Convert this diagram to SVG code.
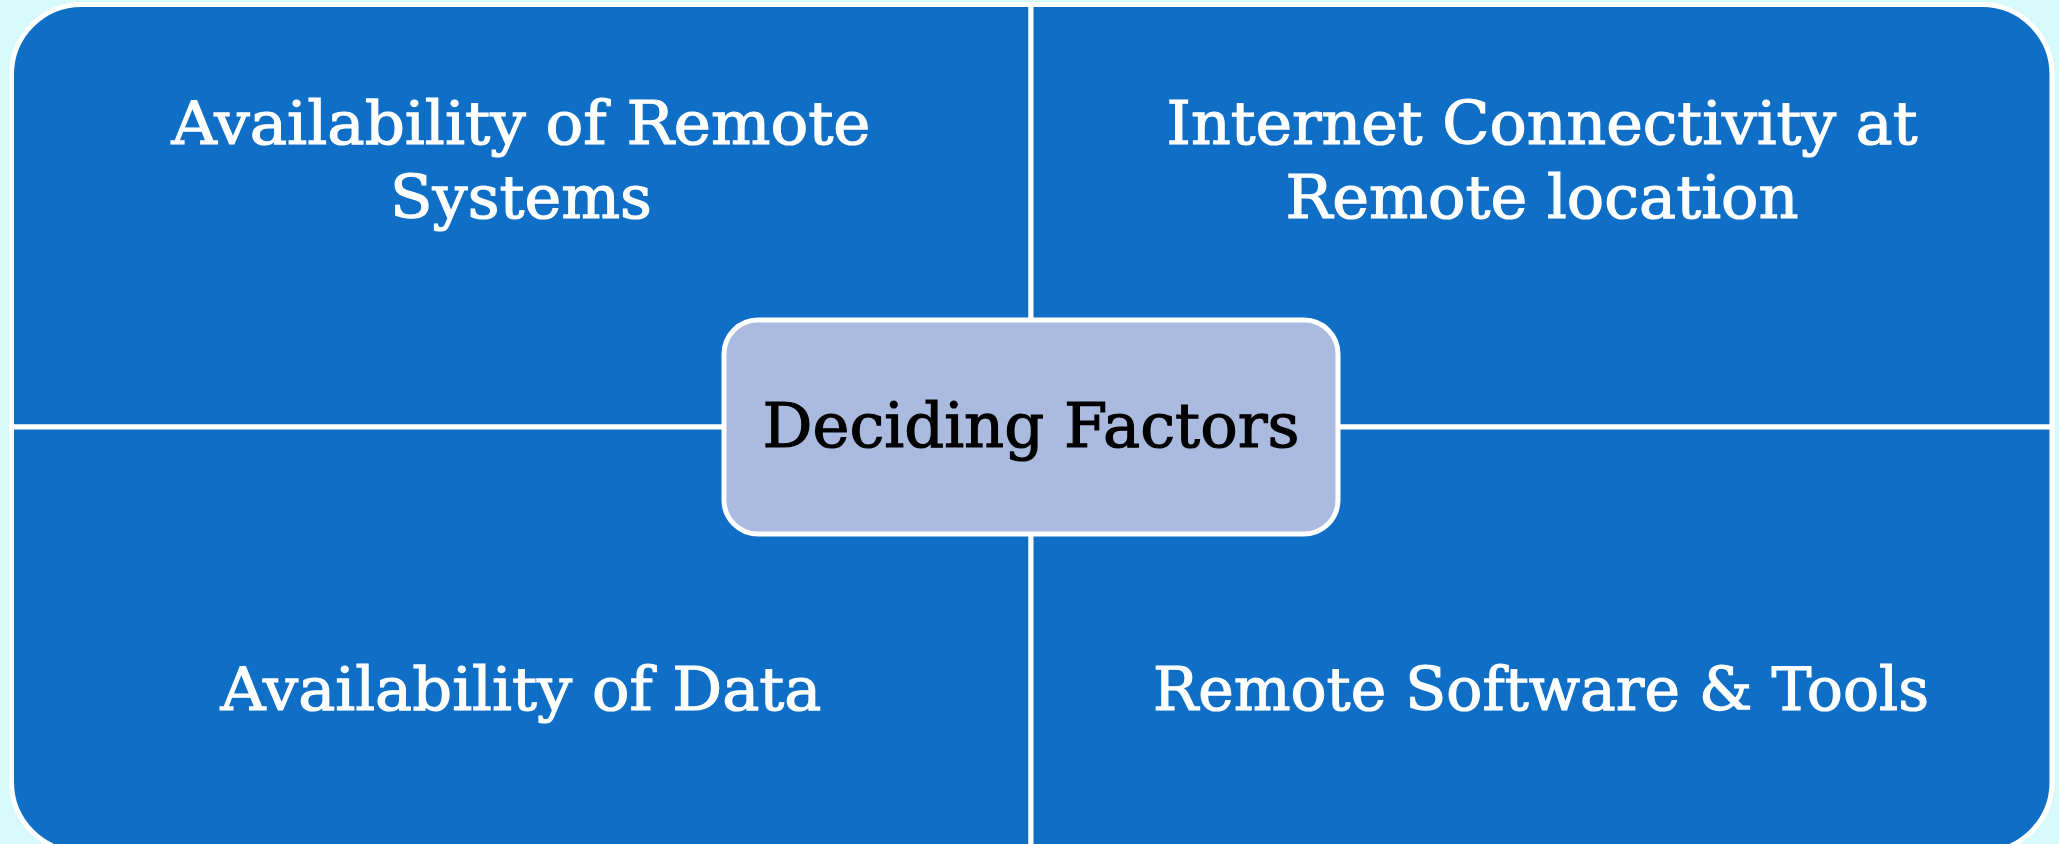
<svg xmlns="http://www.w3.org/2000/svg" width="2059" height="844" viewBox="0 0 2059 844">
  <style>
    .quad { fill: #0F6FC6; stroke: #FFFFFF; stroke-width: 5; }
    .qtext { font-family: "DejaVu Serif", "Liberation Serif", serif; font-size: 60px; fill: #FFFFFF; stroke: #FFFFFF; stroke-width: 1.2; text-anchor: middle; }
    .center { fill: #ABBADF; stroke: #FFFFFF; stroke-width: 5; }
    .ctext { font-family: "DejaVu Serif", "Liberation Serif", serif; font-size: 62px; fill: #000000; stroke: #000000; stroke-width: 1.2; text-anchor: middle; }
  </style>
  <rect x="0" y="0" width="2059" height="844" fill="#D8F9FA"/>
  <g id="connectors"></g>
  <g id="quadrant-top-left">
    <path class="quad" d="M11.5,427 L11.5,74.5 A70,70 0 0 1 81.5,4.5 L1031,4.5 L1031,427 Z"/>
    <text class="qtext" x="521" y="144" textLength="699" lengthAdjust="spacingAndGlyphs">Availability of Remote</text>
    <text class="qtext" x="521" y="218" textLength="262" lengthAdjust="spacingAndGlyphs">Systems</text>
  </g>
  <g id="quadrant-top-right">
    <path class="quad" d="M1031,427 L1031,4.5 L1982,4.5 A70,70 0 0 1 2052,74.5 L2052,427 Z"/>
    <text class="qtext" x="1542" y="144" textLength="751" lengthAdjust="spacingAndGlyphs">Internet Connectivity at</text>
    <text class="qtext" x="1542" y="218" textLength="513" lengthAdjust="spacingAndGlyphs">Remote location</text>
  </g>
  <g id="quadrant-bottom-left">
    <path class="quad" d="M11.5,427 L1031,427 L1031,852 L81.5,852 A70,70 0 0 1 11.5,782 Z"/>
    <text class="qtext" x="521" y="710" textLength="601" lengthAdjust="spacingAndGlyphs">Availability of Data</text>
  </g>
  <g id="quadrant-bottom-right">
    <path class="quad" d="M1031,427 L2052,427 L2052,782 A70,70 0 0 1 1982,852 L1031,852 Z"/>
    <text class="qtext" x="1541" y="710" textLength="776" lengthAdjust="spacingAndGlyphs">Remote Software &amp; Tools</text>
  </g>
  <g id="center-node">
    <rect class="center" x="724" y="320" width="614" height="214" rx="34" ry="34"/>
    <text class="ctext" x="1031" y="447" textLength="537" lengthAdjust="spacingAndGlyphs">Deciding Factors</text>
  </g>
</svg>
